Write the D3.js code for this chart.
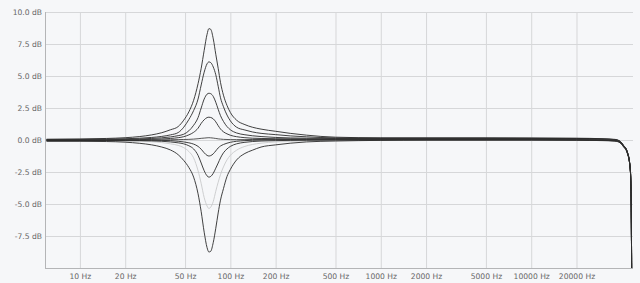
<!DOCTYPE html>
<html>
<head>
<meta charset="utf-8">
<script src="https://cdn.jsdelivr.net/npm/d3@7"></script>
<style>
  body { margin: 0; background: #f6f7f9; }
  svg { display: block; }
  .tick text { font-family: "DejaVu Sans", Verdana, sans-serif; font-size: 7.6px; fill: #666; }
</style>
</head>
<body>
<svg id="chart" width="640" height="283"></svg>
<script>
// frequency grid (Hz) shared by every response curve
const freqs = [6, 10, 15, 20, 25, 30, 35, 40, 45, 49, 53, 57, 61, 64, 67, 70, 72, 74, 77, 80, 83, 86, 90, 95, 100,
               110, 125, 140, 160, 200, 250, 320, 500, 1000, 2000, 5000, 10000, 20000, 30000, 36000, 39000, 41000,
               43500, 45400, 45900, 46300, 46600];

// gain (dB) of each curve
const g87 = [0.06, 0.08, 0.12, 0.18, 0.27, 0.40, 0.57, 0.80, 1.05, 1.55, 2.20, 3.10, 4.40, 5.60, 7.00, 8.25, 8.70, 8.65, 7.90, 6.70, 5.60, 4.50, 3.50, 2.70, 2.15,
             1.55, 1.20, 1.00, 0.85, 0.68, 0.52, 0.38, 0.22, 0.17, 0.17, 0.17, 0.16, 0.14, 0.10, 0.05, -0.10, -0.40, -0.90, -2.10, -3.10, -6.00, -12.0];
const g61 = [0.04, 0.05, 0.07, 0.10, 0.14, 0.20, 0.28, 0.40, 0.58, 1.00, 1.60, 2.30, 3.20, 4.30, 5.30, 5.95, 6.10, 6.05, 5.70, 5.10, 4.20, 3.30, 2.60, 1.95, 1.50,
             1.00, 0.78, 0.63, 0.52, 0.42, 0.32, 0.25, 0.16, 0.14, 0.14, 0.14, 0.13, 0.12, 0.08, 0.03, -0.12, -0.42, -0.92, -2.10, -3.10, -6.00, -12.0];
const g36 = [0.02, 0.02, 0.03, 0.05, 0.08, 0.12, 0.17, 0.24, 0.34, 0.45, 0.72, 1.15, 1.75, 2.50, 3.20, 3.58, 3.65, 3.62, 3.40, 2.95, 2.40, 1.90, 1.45, 1.05, 0.80,
             0.55, 0.41, 0.33, 0.27, 0.20, 0.16, 0.14, 0.12, 0.12, 0.12, 0.12, 0.12, 0.10, 0.06, 0.02, -0.12, -0.42, -0.92, -2.10, -3.10, -6.00, -12.0];
const g18 = [0.00, 0.00, 0.00, 0.02, 0.03, 0.05, 0.08, 0.12, 0.18, 0.26, 0.40, 0.60, 0.92, 1.30, 1.58, 1.75, 1.78, 1.76, 1.65, 1.42, 1.12, 0.86, 0.64, 0.48, 0.37,
             0.26, 0.18, 0.14, 0.12, 0.10, 0.09, 0.08, 0.08, 0.08, 0.08, 0.08, 0.08, 0.07, 0.04, 0.00, -0.14, -0.44, -0.94, -2.10, -3.10, -6.00, -12.0];
const g02 = [-0.02, -0.02, -0.01, 0.00, 0.00, 0.01, 0.01, 0.02, 0.03, 0.04, 0.05, 0.07, 0.10, 0.13, 0.15, 0.17, 0.18, 0.17, 0.15, 0.12, 0.09, 0.07, 0.05, 0.04, 0.03,
             0.03, 0.03, 0.04, 0.04, 0.05, 0.05, 0.05, 0.05, 0.05, 0.05, 0.05, 0.05, 0.04, 0.02, -0.02, -0.16, -0.46, -0.96, -2.10, -3.10, -6.00, -12.0];
const gm12 = [-0.04, -0.04, -0.03, -0.02, -0.02, -0.02, -0.03, -0.05, -0.10, -0.15, -0.22, -0.32, -0.50, -0.72, -1.00, -1.20, -1.25, -1.22, -1.08, -0.85, -0.62, -0.47, -0.35, -0.25, -0.18,
              -0.10, -0.05, -0.02, 0.00, 0.02, 0.02, 0.02, 0.02, 0.02, 0.02, 0.02, 0.02, 0.01, -0.01, -0.05, -0.18, -0.48, -0.98, -2.10, -3.10, -6.00, -12.0];
const gm29 = [-0.06, -0.06, -0.05, -0.05, -0.05, -0.07, -0.10, -0.15, -0.22, -0.30, -0.45, -0.70, -1.20, -1.80, -2.40, -2.80, -2.90, -2.85, -2.60, -2.20, -1.80, -1.40, -1.00, -0.70, -0.50,
              -0.30, -0.18, -0.12, -0.08, -0.05, -0.03, -0.02, 0.00, 0.00, 0.00, 0.00, 0.00, -0.01, -0.03, -0.07, -0.20, -0.50, -1.00, -2.10, -3.10, -6.00, -12.0];
const gm53 = [-0.08, -0.08, -0.08, -0.09, -0.10, -0.14, -0.20, -0.30, -0.42, -0.60, -0.90, -1.40, -2.40, -3.40, -4.50, -5.15, -5.35, -5.25, -4.80, -4.00, -3.30, -2.70, -2.10, -1.55, -1.20,
              -0.80, -0.50, -0.35, -0.25, -0.15, -0.10, -0.06, -0.03, 0.00, 0.00, 0.00, 0.00, -0.01, -0.03, -0.07, -0.20, -0.50, -1.00, -2.10, -3.10, -6.00, -12.0];
const gm88 = [-0.10, -0.10, -0.12, -0.17, -0.26, -0.38, -0.55, -0.78, -1.15, -1.60, -2.15, -2.90, -4.20, -5.60, -7.20, -8.40, -8.75, -8.70, -8.00, -6.90, -5.70, -4.70, -3.80, -2.85, -2.30,
              -1.56, -1.05, -0.80, -0.55, -0.38, -0.25, -0.15, -0.08, -0.03, 0.00, 0.00, 0.00, -0.02, -0.05, -0.09, -0.22, -0.52, -1.02, -2.10, -3.10, -6.00, -12.0];

// axis ticks
const freqTicks = [10, 20, 50, 100, 200, 500, 1000, 2000, 5000, 10000, 20000];
const dbTicks = [-7.5, -5, -2.5, 0, 2.5, 5, 7.5, 10];

const plotLeft = 45, plotRight = 633, plotTop = 12, plotBottom = 268;

const svg = d3.select("#chart");

let x = d3.scaleLog().domain([5.86, 47500]).range([plotLeft, plotRight]);
let y = d3.scaleLinear().domain([-10, 10]).range([plotBottom, plotTop]);

// grid + labels
let xAxis = d3.axisBottom(x).tickValues(freqTicks).tickSize(-(plotBottom - plotTop)).tickPadding(6)
              .tickFormat(d => d + " Hz");
let yAxis = d3.axisLeft(y).tickValues(dbTicks).tickSize(-(plotRight - plotLeft)).tickPadding(3)
              .tickFormat(d => d.toFixed(1) + " dB");

let gx = svg.append("g").attr("transform", `translate(0,${plotBottom})`).call(xAxis);
let gy = svg.append("g").attr("transform", `translate(${plotLeft},0)`).call(yAxis);
gx.select(".domain").remove();
gy.select(".domain").remove();
svg.selectAll(".tick line").attr("stroke", "#d6d7d9").attr("stroke-width", 1);

// frame lines (left + bottom)
svg.append("line").attr("x1", plotLeft + 0.5).attr("x2", plotLeft + 0.5).attr("y1", plotTop).attr("y2", plotBottom)
   .attr("stroke", "#b4b5b7");
svg.append("line").attr("x1", plotLeft).attr("x2", plotRight).attr("y1", plotBottom + 0.5).attr("y2", plotBottom + 0.5)
   .attr("stroke", "#b4b5b7");

svg.append("clipPath").attr("id", "plot")
   .append("rect").attr("x", plotLeft).attr("y", 0).attr("width", plotRight - plotLeft + 2).attr("height", plotBottom);

let line = d3.line()
  .x((d, i) => x(freqs[i]))
  .y(d => y(d))
  .curve(d3.curveMonotoneX);

// light curve underneath, dark curves on top
let curves = [
  {vals: gm53, color: "#c8c9cb"},
  {vals: g87, color: "#2b2b2b"},
  {vals: g61, color: "#2b2b2b"},
  {vals: g36, color: "#2b2b2b"},
  {vals: g18, color: "#2b2b2b"},
  {vals: g02, color: "#444"},
  {vals: gm12, color: "#2b2b2b"},
  {vals: gm29, color: "#2b2b2b"},
  {vals: gm88, color: "#2b2b2b"}
];

svg.append("g").attr("clip-path", "url(#plot)")
  .selectAll("path")
  .data(curves)
  .join("path")
  .attr("d", d => line(d.vals))
  .attr("fill", "none")
  .attr("stroke", d => d.color)
  .attr("stroke-width", 0.9);
</script>
</body>
</html>
